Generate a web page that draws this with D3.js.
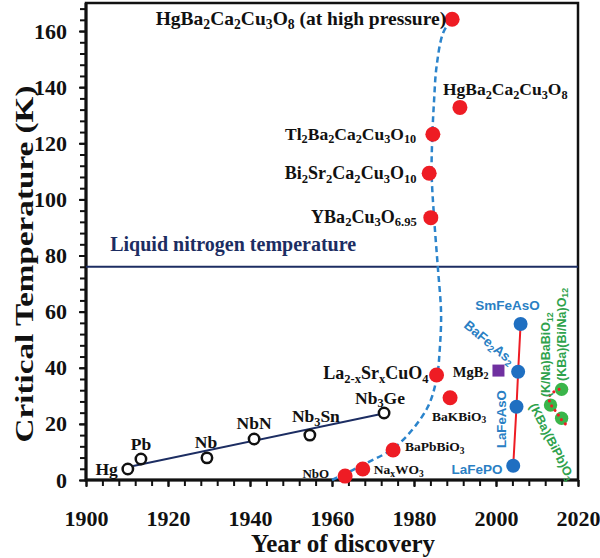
<!DOCTYPE html>
<html>
<head>
<meta charset="utf-8">
<script src="https://cdn.jsdelivr.net/npm/d3@7"></script>
<style>
  body { margin: 0; background: #fff; }
  svg { display: block; }
  .serif { font-family: "Liberation Serif", "Times New Roman", serif; font-weight: bold; }
  .sans { font-family: "Liberation Sans", Arial, sans-serif; font-weight: bold; }
</style>
</head>
<body>
<svg id="chart" width="600" height="558"></svg>
<script>
// ---- data ----
const xTicks = [1900, 1920, 1940, 1960, 1980, 2000, 2020];
const yTicks = [0, 20, 40, 60, 80, 100, 120, 140, 160];

// conventional superconductors (open circles)
const convNames = ['Hg', 'Pb', 'Nb', 'NbN', 'Nb3Sn', 'Nb3Ge'];
const convYears = [1910.2, 1913.4, 1929.5, 1941.0, 1954.6, 1972.7];
const convTc = [3.9, 7.5, 7.9, 14.6, 16.0, 23.9];
const convFitYears = [1911.5, 1971.7];
const convFitTc = [5.0, 23.4];

// oxides / cuprates (red dots)
const redNames = ['NbO', 'NaxWO3', 'BaPbBiO3', 'La214', 'BaKBiO3', 'YBCO', 'Bi2223', 'Tl2223', 'Hg1223', 'Hg1223HP'];
const redYears = [1963.2, 1967.5, 1974.9, 1985.5, 1988.8, 1984.1, 1983.7, 1984.6, 1991.2, 1989.3];
const redTc = [1.4, 3.9, 10.7, 37.4, 29.3, 93.5, 109.3, 123.2, 132.8, 164.2];

// iron based (blue dots)
const feNames = ['SmFeAsO', 'BaFe2As2', 'LaFeAsO', 'LaFePO'];
const feYears = [2006.0, 2005.4, 2005.0, 2004.2];
const feTc = [55.6, 38.6, 26.1, 5.1];

// MgB2 (purple square)
const mgNames = ['MgB2'];
const mgYears = [2000.6];
const mgTc = [39.0];

// bismuthates (green dots) and the red dotted trace through them
const bkbNames = ['KNaBaBiO', 'KBaBiPbO', 'KBaBiNaO'];
const bkbYears = [2016.0, 2013.3, 2016.0];
const bkbTc = [32.3, 26.7, 22.0];
const bkbTraceYears = [2015.4, 2013.8, 2013.0, 2013.2, 2014.0, 2015.2, 2016.0, 2017.2];
const bkbTraceTc = [32.3, 31.1, 29.7, 27.3, 25.6, 23.2, 21.4, 19.6];

// dashed blue trend curve
const trendYears = [1960.0, 1968.4, 1975.8, 1983.1, 1985.5, 1986.3, 1986.6, 1985.8, 1984.9, 1984.3, 1984.5, 1984.9, 1985.5, 1987.1, 1989.3];
const trendTc = [0, 6.0, 12.2, 25.3, 36.0, 47.0, 59.5, 76.0, 93.5, 109.4, 123.7, 135.4, 147.3, 159.3, 164.5];

const ln2Tc = 76;

const labelText = {
  Hg: 'Hg', Pb: 'Pb', Nb: 'Nb', NbN: 'NbN', Nb3Sn: 'Nb_{3}Sn', Nb3Ge: 'Nb_{3}Ge',
  NbO: 'NbO', NaxWO3: 'Na_{x}WO_{3}', BaPbBiO3: 'BaPbBiO_{3}', La214: 'La_{2-x}Sr_{x}CuO_{4}',
  BaKBiO3: 'BaKBiO_{3}', YBCO: 'YBa_{2}Cu_{3}O_{6.95}', Bi2223: 'Bi_{2}Sr_{2}Ca_{2}Cu_{3}O_{10}',
  Tl2223: 'Tl_{2}Ba_{2}Ca_{2}Cu_{3}O_{10}', Hg1223: 'HgBa_{2}Ca_{2}Cu_{3}O_{8}',
  Hg1223HP: 'HgBa_{2}Ca_{2}Cu_{3}O_{8} (at high pressure)',
  SmFeAsO: 'SmFeAsO', BaFe2As2: 'BaFe_{2}As_{2}', LaFeAsO: 'LaFeAsO', LaFePO: 'LaFePO',
  MgB2: 'MgB_{2}',
  KNaBaBiO: '(K/Na)BaBiO_{12}', KBaBiPbO: '(KBa)(BiPb)O_{3}', KBaBiNaO: '(KBa)(Bi/Na)O_{12}'
};

// ---- layout ----
const x = d3.scaleLinear().domain([1900, 2020]).range([86, 578]);
const y = d3.scaleLinear().domain([0, 170]).range([480, 3]);

const colors = {
  red: '#ee1c24', blue: '#1f6fc1', blueText: '#2a7fc4', navy: '#1c2d62',
  green: '#3ab54a', greenText: '#2fa24c', purple: '#7030a0', dash: '#2b84cc'
};

// label offsets from their point, in pixels
const labelPos = {
  Hg: { dx: -10, dy: 6, anchor: 'end', size: 17.5 },
  Pb: { dx: 0, dy: -9, anchor: 'middle', size: 17.5 },
  Nb: { dx: -1, dy: -10, anchor: 'middle', size: 17.5 },
  NbN: { dx: 0, dy: -10, anchor: 'middle', size: 17.5 },
  Nb3Sn: { dx: 6, dy: -13, anchor: 'middle', size: 17.5 },
  Nb3Ge: { dx: -4, dy: -9, anchor: 'middle', size: 17.5 },
  NbO: { dx: -16, dy: 2, anchor: 'end', size: 13 },
  NaxWO3: { dx: 11, dy: 5, anchor: 'start', size: 13.5 },
  BaPbBiO3: { dx: 12, dy: 1, anchor: 'start', size: 13.5 },
  La214: { dx: -8, dy: 4, anchor: 'end', size: 18 },
  BaKBiO3: { dx: -18, dy: 23, anchor: 'start', size: 13.5 },
  YBCO: { dx: -14, dy: 5, anchor: 'end', size: 18 },
  Bi2223: { dx: -12.6, dy: 6, anchor: 'end', size: 18 },
  Tl2223: { dx: -16.7, dy: 5.5, anchor: 'end', size: 17.5 },
  Hg1223: { dx: -17, dy: -12, anchor: 'start', size: 17.5 },
  Hg1223HP: { dx: -6, dy: 6, anchor: 'end', size: 19.5 },
  MgB2: { dx: -4, dy: 6, anchor: 'end', size: 14.5 },
  SmFeAsO: { dx: -13, dy: -14, anchor: 'middle', size: 13.5, sans: true, color: colors.blueText },
  BaFe2As2: { dx: -31.8, dy: -25.6, anchor: 'middle', size: 13.5, sans: true, color: colors.blueText, rotate: 39.5 },
  LaFeAsO: { dx: -10.7, dy: 12.3, anchor: 'middle', size: 13.2, sans: true, color: colors.blueText, rotate: -90 },
  LaFePO: { dx: -10.6, dy: 8, anchor: 'end', size: 13.5, sans: true, color: colors.blueText },
  KNaBaBiO: { dx: -0.5, dy: -8, anchor: 'start', size: 12.5, sans: true, color: colors.greenText, rotate: -90 },
  KBaBiPbO: { dx: -21.5, dy: 1, anchor: 'start', size: 12.5, sans: true, color: colors.greenText, rotate: 63 },
  KBaBiNaO: { dx: 4.4, dy: -8.4, anchor: 'start', size: 12.5, sans: true, color: colors.greenText, rotate: -90 }
};

const svg = d3.select('#chart');

// text with _{..} subscripts
function richText(g, str, size) {
  const parts = str.split(/(_\{[^}]*\})/).filter(s => s.length);
  const shift = size * 0.2;
  let low = false;
  parts.forEach(p => {
    const t = g.append('tspan');
    if (p.startsWith('_{')) {
      t.text(p.slice(2, -1)).attr('font-size', size * 0.7);
      if (!low) t.attr('dy', shift);
      low = true;
    } else {
      t.text(p);
      if (low) t.attr('dy', -shift);
      low = false;
    }
  });
}

function drawLabel(name, px, py) {
  const o = labelPos[name];
  const lx = px + o.dx, ly = py + o.dy;
  const t = svg.append('text')
    .attr('class', o.sans ? 'sans' : 'serif')
    .attr('x', lx)
    .attr('y', ly)
    .attr('font-size', o.size)
    .attr('text-anchor', o.anchor)
    .attr('fill', o.color || '#111');
  if (o.rotate) t.attr('transform', `rotate(${o.rotate},${lx},${ly})`);
  richText(t, labelText[name], o.size);
}

// ---- axes ----
const xMinor = svg.append('g')
  .attr('transform', `translate(0,${y(0)})`)
  .call(d3.axisBottom(x).tickValues(d3.range(1900, 2021, 4)).tickSize(6).tickFormat(''));
xMinor.select('.domain').remove();
xMinor.selectAll('line').attr('stroke', '#111').attr('stroke-width', 2);

const xMajor = svg.append('g')
  .attr('transform', `translate(0,${y(0)})`)
  .call(d3.axisBottom(x).tickValues(xTicks).tickSize(7).tickPadding(23).tickFormat(d3.format('d')));
xMajor.select('.domain').remove();
xMajor.selectAll('line').attr('stroke', '#111').attr('stroke-width', 2);
xMajor.selectAll('text')
  .attr('class', 'serif').attr('font-size', 22).attr('fill', '#111');

const yMinor = svg.append('g')
  .attr('transform', `translate(${x(1900)},0)`)
  .call(d3.axisLeft(y).tickValues(d3.range(0, 169, 4)).tickSize(6).tickFormat(''));
yMinor.select('.domain').remove();
yMinor.selectAll('line').attr('stroke', '#111').attr('stroke-width', 2);

const yMajor = svg.append('g')
  .attr('transform', `translate(${x(1900)},0)`)
  .call(d3.axisLeft(y).tickValues(yTicks).tickSize(7).tickPadding(12));
yMajor.select('.domain').remove();
yMajor.selectAll('line').attr('stroke', '#111').attr('stroke-width', 2);
yMajor.selectAll('text')
  .attr('class', 'serif').attr('font-size', 22).attr('fill', '#111');

// frame
svg.append('rect')
  .attr('x', x(1900)).attr('y', y(170))
  .attr('width', x(2020) - x(1900)).attr('height', y(0) - y(170))
  .attr('fill', 'none').attr('stroke', '#111').attr('stroke-width', 2.5);
svg.append('path')
  .attr('d', `M${x(1900)},${y(170)}V${y(0)}H${x(2020)}`)
  .attr('fill', 'none').attr('stroke', '#111').attr('stroke-width', 3);

// axis titles
svg.append('text')
  .attr('class', 'serif')
  .attr('x', 343).attr('y', 552)
  .attr('text-anchor', 'middle')
  .attr('font-size', 25)
  .attr('fill', '#111')
  .text('Year of discovery');

svg.append('text')
  .attr('class', 'serif')
  .attr('transform', 'translate(33,264) rotate(-90)')
  .attr('text-anchor', 'middle')
  .attr('font-size', 26)
  .attr('textLength', 357)
  .attr('lengthAdjust', 'spacingAndGlyphs')
  .attr('fill', '#111')
  .text('Critical Temperature (K)');

// liquid nitrogen line
svg.append('line')
  .attr('x1', x(1900)).attr('x2', x(2020))
  .attr('y1', y(ln2Tc)).attr('y2', y(ln2Tc))
  .attr('stroke', colors.navy).attr('stroke-width', 2.2);
svg.append('text')
  .attr('class', 'serif')
  .attr('x', x(1905.9)).attr('y', y(ln2Tc) - 16)
  .attr('font-size', 20)
  .attr('fill', colors.navy)
  .text('Liquid nitrogen temperature');

// ---- lines ----
const line = d3.line().x(d => x(d[0])).y(d => y(d[1]));

svg.append('path')
  .datum(d3.zip(trendYears, trendTc))
  .attr('d', line.curve(d3.curveCatmullRom.alpha(0.5)))
  .attr('fill', 'none')
  .attr('stroke', colors.dash)
  .attr('stroke-width', 2.5)
  .attr('stroke-dasharray', '6,4');

svg.append('path')
  .datum(d3.zip(convFitYears, convFitTc))
  .attr('d', line.curve(d3.curveLinear))
  .attr('fill', 'none')
  .attr('stroke', colors.navy)
  .attr('stroke-width', 2);

svg.append('path')
  .datum(d3.zip(feYears, feTc))
  .attr('d', line.curve(d3.curveLinear))
  .attr('fill', 'none')
  .attr('stroke', colors.red)
  .attr('stroke-width', 2);

// ---- points ----
svg.append('g').selectAll('circle')
  .data(d3.zip(convYears, convTc))
  .join('circle')
  .attr('cx', d => x(d[0])).attr('cy', d => y(d[1]))
  .attr('r', 5.2)
  .attr('fill', '#fff').attr('stroke', '#111').attr('stroke-width', 2.5);

svg.append('g').selectAll('circle')
  .data(d3.zip(redYears, redTc))
  .join('circle')
  .attr('cx', d => x(d[0])).attr('cy', d => y(d[1]))
  .attr('r', 7.5)
  .attr('fill', colors.red);

svg.append('g').selectAll('circle')
  .data(d3.zip(feYears, feTc))
  .join('circle')
  .attr('cx', d => x(d[0])).attr('cy', d => y(d[1]))
  .attr('r', 7)
  .attr('fill', colors.blue);

svg.append('g').selectAll('rect')
  .data(d3.zip(mgYears, mgTc))
  .join('rect')
  .attr('x', d => x(d[0]) - 6).attr('y', d => y(d[1]) - 6)
  .attr('width', 12).attr('height', 12)
  .attr('fill', colors.purple);

svg.append('g').selectAll('circle')
  .data(d3.zip(bkbYears, bkbTc))
  .join('circle')
  .attr('cx', d => x(d[0])).attr('cy', d => y(d[1]))
  .attr('r', 6.7)
  .attr('fill', colors.green);

svg.append('path')
  .datum(d3.zip(bkbTraceYears, bkbTraceTc))
  .attr('d', line.curve(d3.curveCatmullRom))
  .attr('fill', 'none')
  .attr('stroke', colors.red)
  .attr('stroke-width', 3)
  .attr('stroke-linecap', 'round')
  .attr('stroke-dasharray', '0.1,5.5');

// ---- labels ----
convNames.forEach((n, i) => drawLabel(n, x(convYears[i]), y(convTc[i])));
redNames.forEach((n, i) => drawLabel(n, x(redYears[i]), y(redTc[i])));
feNames.forEach((n, i) => drawLabel(n, x(feYears[i]), y(feTc[i])));
mgNames.forEach((n, i) => drawLabel(n, x(mgYears[i]) - 6, y(mgTc[i])));
bkbNames.forEach((n, i) => {
  // green labels are placed against the lower-left dot
  const j = n === 'KBaBiNaO' ? 0 : 1;
  drawLabel(n, x(bkbYears[j]), y(bkbTc[j]));
});
</script>
</body>
</html>
